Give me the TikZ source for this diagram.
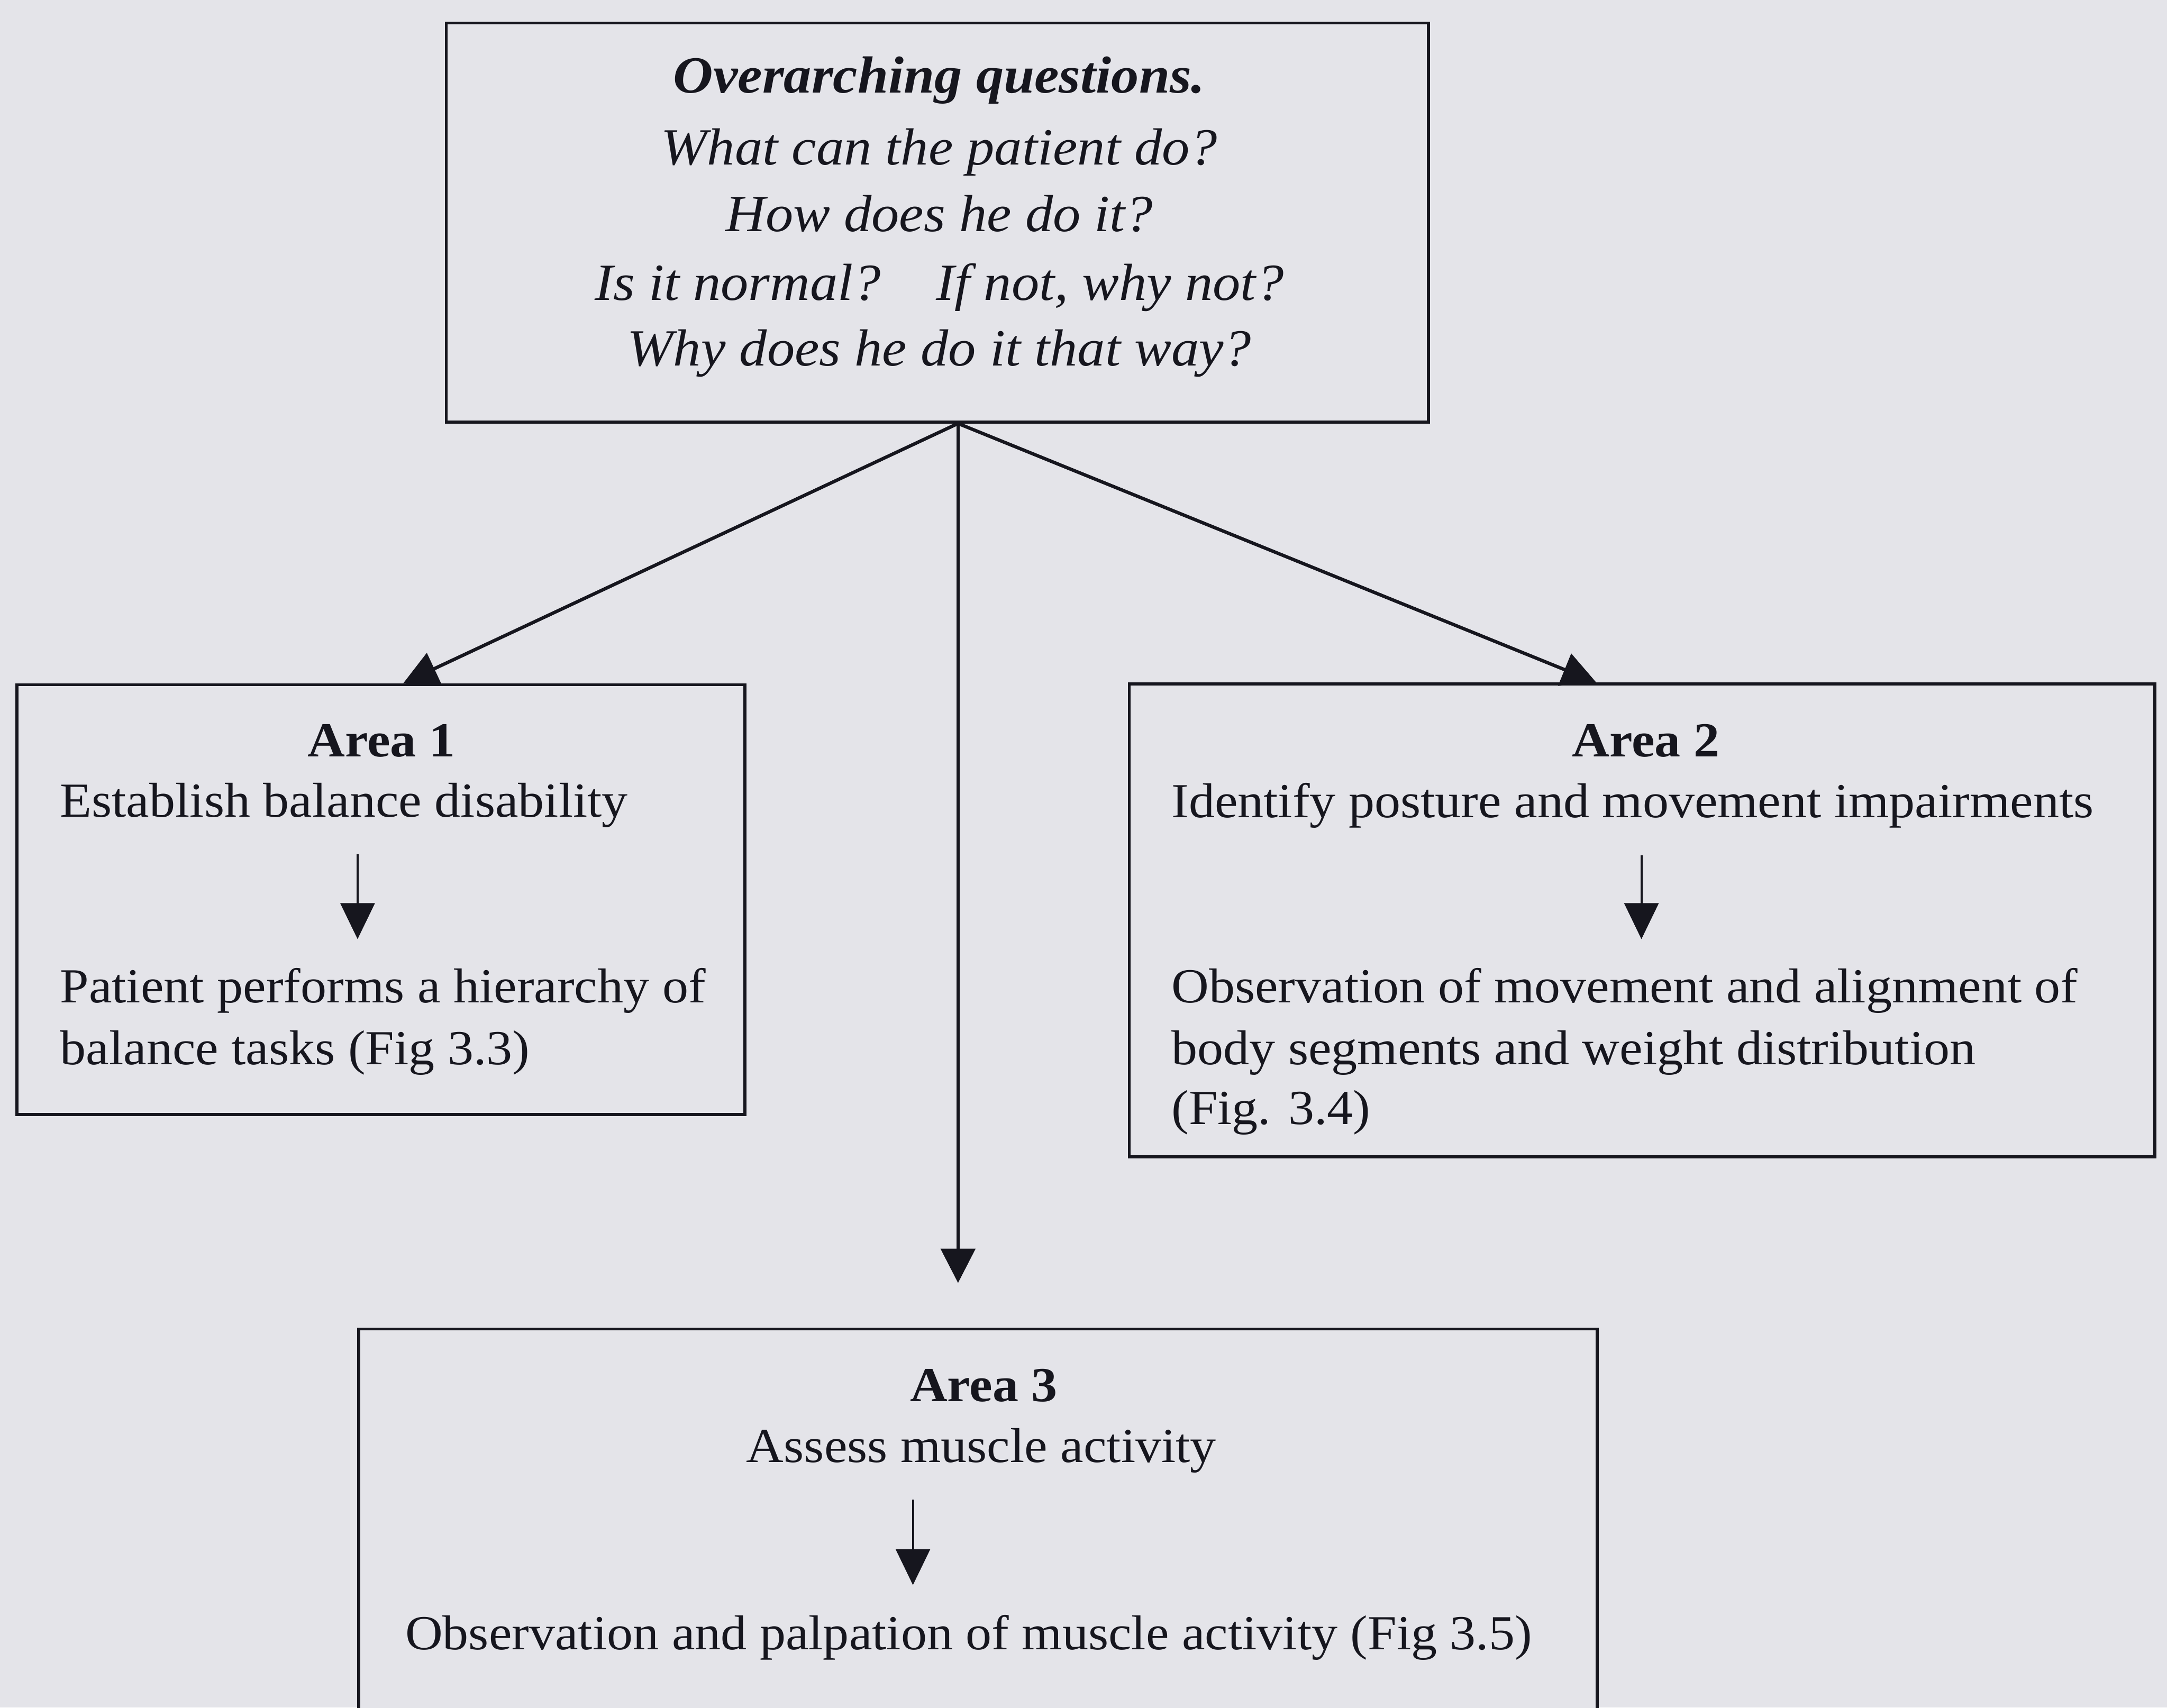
\documentclass[tikz,border=0pt]{standalone}
\usepackage{fontspec}
\setmainfont{Liberation Serif}[FakeStretch=1.06]
\usetikzlibrary{arrows.meta,calc}
\definecolor{paper}{RGB}{228,228,233}
\definecolor{ink}{RGB}{22,22,30}
\tikzset{
  box/.style={draw=ink, line width=2.5pt, fill=paper, anchor=north west, inner sep=0pt},
  qline/.style={font=\fontsize{43.4}{52}\selectfont\itshape, text=ink, inner sep=0pt, anchor=base},
  qhead/.style={qline, font=\fontsize{43.4}{52}\selectfont\bfseries\itshape},
  aline/.style={font=\fontsize{40.7}{48}\selectfont, text=ink, inner sep=0pt, anchor=base west},
  acentre/.style={aline, anchor=base},
  ahead/.style={acentre, font=\fontsize{40.7}{48}\selectfont\bfseries},
  branch/.style={draw=ink, line width=2.8pt, -{Triangle[length=1cm,width=1cm]}},
  inner arrow/.style={draw=ink, line width=1.8pt, -{Triangle[length=1.05cm,width=1.0cm]}}
}
\begin{document}
\begin{tikzpicture}
\useasboundingbox[fill=paper] (0,0) rectangle (63.33,-49.91);
\clip (0,0) rectangle (63.33,-49.91);

% boxes
\node[box, minimum width=28.7cm, minimum height=11.66cm] (top) at (13.0,-0.63) {};
\node[box, minimum width=21.28cm, minimum height=12.56cm] (a1) at (0.45,-19.97) {};
\node[box, minimum width=29.97cm, minimum height=13.82cm] (a2) at (32.96,-19.95) {};
\node[box, minimum width=36.19cm, minimum height=14cm] (a3) at (10.44,-38.80) {};

% overarching questions
\node[qhead] (q0) at (27.45,-2.72) {Overarching questions.};
\node[qline] (q1) at (27.45,-4.81) {What can the patient do?};
\node[qline] (q2) at (27.45,-6.77) {How does he do it?};
\node[qline] (q3) at (27.45,-8.77) {Is it normal?\hspace*{0.8em} If not, why not?};
\node[qline] (q4) at (27.45,-10.69) {Why does he do it that way?};

% area 1
\node[ahead] (a1t) at (11.15,-22.11) {Area 1};
\node[aline] (a1l1) at (1.75,-23.88) {Establish balance disability};
\node[aline] (a1l2) at (1.75,-29.31) {Patient performs a hierarchy of};
\node[aline] (a1l3) at (1.75,-31.12) {balance tasks (Fig 3.3)};

% area 2
\node[ahead] (a2t) at (48.10,-22.12) {Area 2};
\node[aline] (a2l1) at (34.23,-23.89) {Identify posture and movement impairments};
\node[aline] (a2l2) at (34.23,-29.31) {Observation of movement and alignment of};
\node[aline] (a2l3) at (34.23,-31.11) {body segments and weight distribution};
\node[aline] (a2l4) at (34.23,-32.87) {(Fig. 3.4)};

% area 3
\node[ahead] (a3t) at (28.75,-40.96) {Area 3};
\node[acentre] (a3l1) at (28.68,-42.75) {Assess muscle activity};
\node[acentre] (a3l2) at (28.31,-48.22) {Observation and palpation of muscle activity (Fig 3.5)};

% branching connectors
\coordinate (fork) at ($(top.south west)!0.521!(top.south east)$);
\coordinate (a1in) at ($(a1.north west)!0.5305!(a1.north east)$);
\coordinate (a2in) at ($(a2.north west)!0.4555!(a2.north east)$);
\coordinate (a3in) at ($(fork |- a3.north)+(0,1.3)$);
\draw[branch] (fork) -- (a1in);
\draw[branch] (fork) -- (a2in);
\draw[branch] (fork) -- (a3in);

% arrows inside the areas
\coordinate (a1s) at (10.45,-24.97);
\coordinate (a1e) at (10.45,-27.45);
\coordinate (a2s) at (47.97,-25.00);
\coordinate (a2e) at (47.97,-27.45);
\coordinate (a3s) at (26.68,-43.83);
\coordinate (a3e) at (26.68,-46.33);
\draw[inner arrow] (a1s) -- (a1e);
\draw[inner arrow] (a2s) -- (a2e);
\draw[inner arrow] (a3s) -- (a3e);
\end{tikzpicture}
\end{document}
